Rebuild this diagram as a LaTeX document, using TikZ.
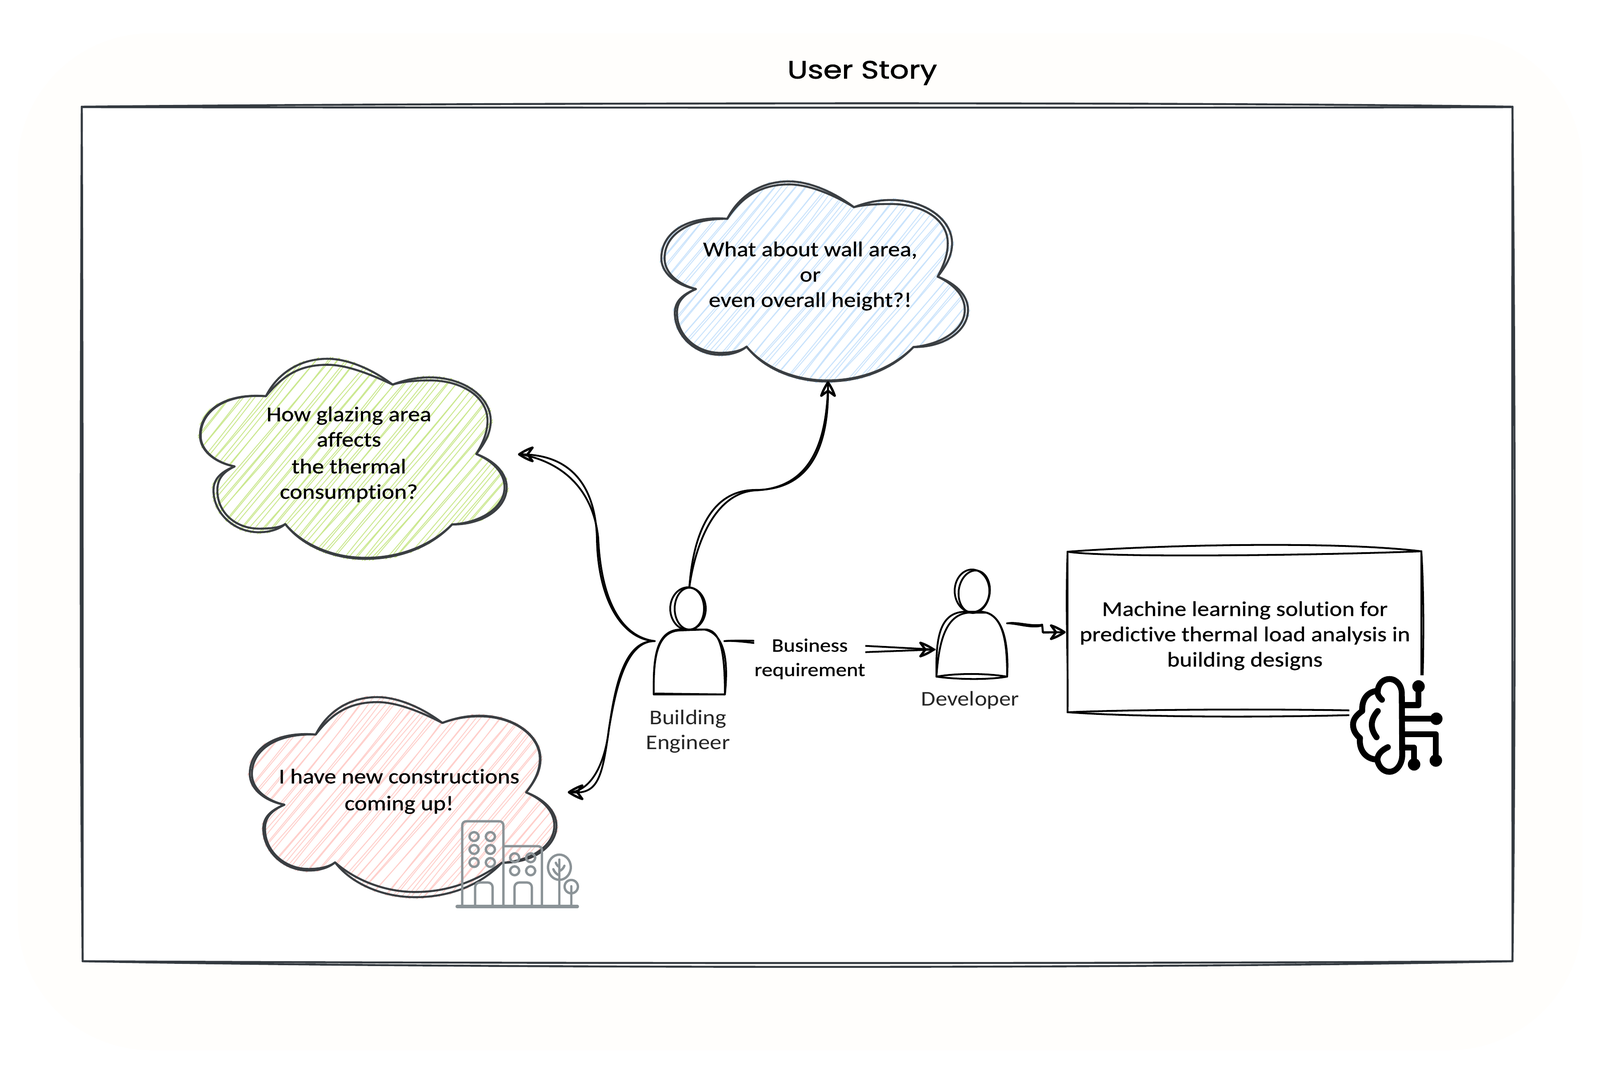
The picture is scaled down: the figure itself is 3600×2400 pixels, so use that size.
\documentclass[tikz,border=0pt]{standalone}
\usepackage{fontspec}
\setmainfont{Carlito}
\newfontfamily\titlefont[FakeStretch=1.2,FakeBold=1.6]{Poppins}
\newfontfamily\bodyfont[FakeStretch=1.14,FakeBold=0.7,Ligatures=NoCommon]{Carlito}
\newfontfamily\thinfont[FakeStretch=1.12,Ligatures=NoCommon]{Carlito}
\definecolor{ink}{HTML}{3A3E42}
\definecolor{framecol}{HTML}{343A40}
\definecolor{cream}{HTML}{FFFEFC}
\definecolor{hgreen}{HTML}{CBE88F}
\definecolor{hblue}{HTML}{C9E3FC}
\definecolor{hpink}{HTML}{FFCFCB}
\definecolor{icongray}{HTML}{8B9397}
\tikzset{
  framestroke/.style={draw=framecol,line width=1.25pt,line cap=round,line join=round},
  cloudstroke/.style={draw=ink,line width=1.3pt,line cap=round,line join=round},
  sketch/.style={draw=black,line width=1.15pt,line cap=round,line join=round},
  tipstroke/.style={draw=black,line width=1.5pt,line cap=round,line join=round},
  bodytext/.style={align=center,inner sep=0pt,text=black,font=\bodyfont\fontsize{13.4}{16.2}\selectfont},
  labeltext/.style={align=center,inner sep=0pt,text=black,font=\bodyfont\fontsize{12.2}{15.6}\selectfont},
  thintext/.style={align=center,inner sep=0pt,text=black!85,font=\thinfont\fontsize{13.4}{15.8}\selectfont},
  hatchline/.style={line width=0.55pt,line cap=round},
  bldg/.style={draw=icongray,line width=1.5pt,line cap=round,line join=round,rounded corners=1.2pt},
  brainstroke/.style={draw=black,line width=3.8pt,line cap=round,line join=round},
}
% cloud outline in a 0..100 box; the six arguments push each lobe out or in
\newcommand{\cloudpath}[6]{
 (62.8,12.9) .. controls (56,{5-#1}) and (48,{0-#1}) .. (41.6,{0-#1}) .. controls (32,{0-#1}) and ({25-.6*#1},{8-.3*#1}) .. (21.5,18.7)
 .. controls ({8-.5*#2},{17-#2}) and ({0-.7*#2},{26-.5*#2}) .. ({0-.7*#2},38.4) .. controls ({0-.7*#2},46) and ({5-.5*#2},{52+.2*#2}) .. (11.3,53.8)
 .. controls ({6-.5*#3},57) and ({4.4-.7*#3},61) .. ({4.4-.7*#3},65.8) .. controls ({4.4-.7*#3},77) and ({11-.4*#3},{86.7+#3}) .. (19.2,{86.7+#3}) .. controls (23,{86.7+#3}) and (26,{85+.3*#3}) .. (27.8,82.6)
 .. controls ({33-.2*#4},{93+#4}) and (43,{100+#4}) .. (54,{100+#4}) .. controls (66,{100+#4}) and ({76+.2*#4},{93+#4}) .. (82.2,82.8)
 .. controls ({92+.5*#5},{83+#5}) and ({100+.7*#5},{75+.5*#5}) .. ({100+.7*#5},64.2) .. controls ({100+.7*#5},57) and ({96+.5*#5},{51-.2*#5}) .. (90.1,47.6)
 .. controls ({93+.5*#6},42) and ({94.8+.7*#6},37) .. ({94.8+.7*#6},30.9) .. controls ({94.8+.7*#6},19) and ({86+.4*#6},{9.3-#6}) .. (74.9,{9.3-#6}) .. controls (70,{9.3-#6}) and (66,{11-.3*#6}) .. (62.8,12.9) -- cycle
}
% #1 x, #2 y, #3 hachure colour, #4 six lobe offsets of the second stroke
\newcommand{\cloud}[4]{
 \begin{scope}[shift={(#1,#2)},xscale=6.9,yscale=4.5]
  \begin{scope}
   \clip \cloudpath{1}{1}{1}{1}{1}{1};
   \foreach \i in {-17,...,29}{
     \pgfmathsetmacro{\u}{\i*3.5}
     \draw[#3,hatchline] ({\u+1.6*rand},102) .. controls ({\u+19+1.6*rand},68) and ({\u+38+1.6*rand},34) .. ({\u+56.5+1.6*rand},-2);
     \draw[#3,hatchline] ({\u+1.6*rand},102) .. controls ({\u+19+1.6*rand},68) and ({\u+38+1.6*rand},34) .. ({\u+56.5+1.6*rand},-2);
   }
  \end{scope}
  \draw[cloudstroke] \cloudpath{0}{0}{0}{0}{0}{0};
  \draw[cloudstroke] \cloudpath#4;
 \end{scope}
}
% open sketched arrow head: tip at #1,#2, pointing along the angle #3
\newcommand{\ahead}[3]{
 \begin{scope}[shift={(#1,#2)},rotate=#3]
  \draw[tipstroke] (-30,-15) .. controls (-20,-12) and (-9,-6) .. (0,0) .. controls (-9,6) and (-20,12) .. (-30,15);
  \draw[tipstroke] (-30,-15) -- (-19,0) -- (-30,15);
 \end{scope}
}
\begin{document}
\begin{tikzpicture}[x=0.01cm,y=-0.01cm]
\useasboundingbox (0,0) rectangle (3600,2400);
\fill[white] (0,0) rectangle (3600,2400);
\fill[cream,rounded corners=30mm] (40,75) rectangle (3560,2362);

% main frame
\fill[white] (184,240) rectangle (3403,2162);
\draw[framestroke] (184,240) .. controls (1000,232) and (2600,228) .. (3403,240);
\draw[framestroke] (184,241) .. controls (1000,242) and (2600,243) .. (3403,241);
\draw[framestroke] (3403,240) .. controls (3410,1000) and (3409,1700) .. (3403,2162);
\draw[framestroke] (3403,240) .. controls (3402,1000) and (3403,1700) .. (3403,2162);
\draw[framestroke] (3403,2162) .. controls (2600,2180) and (1000,2178) .. (186,2162);
\draw[framestroke] (3403,2162) .. controls (2600,2168) and (1000,2167) .. (186,2162);
\draw[framestroke] (186,2162) .. controls (179,1500) and (182,800) .. (184,240);
\draw[framestroke] (186,2162) .. controls (186,1500) and (186,800) .. (184,240);

\node[font=\titlefont\fontsize{16}{18}\selectfont,text=black,inner sep=0pt] (title) at (1940,164) {User Story};

% clouds
\cloud{1488}{408}{hblue}{{-1.5}{-1.5}{-1}{-.5}{-1.5}{-2}}
\cloud{450}{807}{hgreen}{{-3}{-.3}{-1.8}{-.5}{-1}{-1.5}}
\cloud{562}{1568}{hpink}{{-2.5}{-1}{-.8}{-2.6}{-1}{-.3}}

\node[bodytext] (blueText) at (1823,621) {What about wall area,\\or\\even overall height?!};
\node[bodytext] (greenText) at (785,1022) {How glazing area\\affects\\[1pt]the thermal\\consumption?};
\node[bodytext] (pinkText) at (898,1780) {I have new constructions\\[1pt]coming up!};

% building icon
\begin{scope}[shift={(1000,1820)},scale=0.3333]
 \draw[draw=icongray,line width=2pt,line cap=round] (85,657) -- (898,657);
 \draw[bldg,rounded corners=2.5pt] (120,650) -- (120,82) -- (398,82) -- (398,650);
 \draw[bldg,rounded corners=2.5pt] (398,250) -- (658,250) -- (658,650);
 \foreach \cx/\cy in {200/185,310/185,200/272,310/272,200/360,310/360,474/328,582/328,474/416,582/416}{
   \draw[bldg,rounded corners=3pt] ({\cx-31},{\cy-30}) rectangle ({\cx+31},{\cy+30});
 }
 \draw[bldg,rounded corners=3pt] (207,650) -- (207,495) -- (325,495) -- (325,650);
 \draw[bldg,rounded corners=3pt] (473,650) -- (473,495) -- (590,495) -- (590,650);
 \draw[bldg] (776,392) ellipse [x radius=77,y radius=85];
 \draw[bldg] (776,650) -- (776,340);
 \draw[bldg] (752,362) .. controls (758,378) and (766,385) .. (776,392);
 \draw[bldg] (810,382) .. controls (803,400) and (792,410) .. (776,418);
 \draw[bldg] (735,405) .. controls (742,425) and (758,440) .. (776,448);
 \draw[bldg] (856,523) circle [radius=45];
 \draw[bldg] (856,650) -- (856,520);
\end{scope}

% building engineer
\coordinate (engHead) at (1551,1321);
\coordinate (engL) at (1473,1442);
\coordinate (engR) at (1630,1442);
\draw[sketch] (1548,1369) ellipse [x radius=40,y radius=48];
\draw[sketch] (1551,1369) ellipse [x radius=33,y radius=47];
\draw[sketch] (1471,1562) .. controls (1470,1490) and (1472,1418) .. (1530,1416) -- (1590,1416) .. controls (1622,1420) and (1631,1470) .. (1631,1562) -- cycle;
\draw[sketch] (1471,1562) .. controls (1470,1490) and (1474,1420) .. (1530,1418) -- (1585,1416) .. controls (1628,1425) and (1640,1480) .. (1631,1562) -- (1475,1560);
\node[thintext] (engLabel) at (1548,1645) {Building\\Engineer};

% developer
\coordinate (devL) at (2103,1461);
\coordinate (devR) at (2266,1402);
\draw[sketch] (2187,1329) ellipse [x radius=39,y radius=48];
\draw[sketch] (2192,1331) [rotate around={-8:(2192,1331)}] ellipse [x radius=35,y radius=48];
\draw[sketch] (2107,1522) .. controls (2106,1450) and (2108,1378) .. (2170,1376) -- (2210,1376) .. controls (2260,1382) and (2266,1450) .. (2266,1522) .. controls (2220,1514) and (2150,1514) .. (2107,1522);
\draw[sketch] (2107,1522) .. controls (2112,1450) and (2125,1382) .. (2180,1378) -- (2220,1378) .. controls (2258,1390) and (2270,1450) .. (2266,1522) .. controls (2220,1530) and (2150,1528) .. (2107,1522);
\node[thintext] (devLabel) at (2183,1575) {Developer};

% machine learning box
\draw[sketch] (2402,1241) .. controls (2600,1226) and (3000,1216) .. (3198,1240);
\draw[sketch] (2402,1241) .. controls (2500,1256) and (3000,1248) .. (3198,1240);
\draw[sketch] (2402,1241) -- (2402,1602);
\draw[sketch] (2402,1241) .. controls (2397,1380) and (2404,1500) .. (2402,1602);
\draw[sketch] (3198,1240) .. controls (3205,1350) and (3203,1500) .. (3198,1602);
\draw[sketch] (3198,1240) -- (3198,1602);
\draw[sketch] (2402,1602) .. controls (2600,1594) and (3000,1594) .. (3198,1602);
\draw[sketch] (2402,1602) .. controls (2600,1616) and (3000,1614) .. (3198,1602);
\node[bodytext] (mlText) at (2801,1430) {Machine learning solution for\\predictive thermal load analysis in\\building designs};

% brain icon with its white ground
\fill[white] (3036,1519) rectangle (3262,1750);
\begin{scope}[shift={(2950,1480)},scale=0.3333]
 \draw[brainstroke] (478,282) .. controls (455,262) and (445,240) .. (450,220) .. controls (455,170) and (490,142) .. (528,142) .. controls (580,142) and (612,190) .. (612,240) -- (615,660) .. controls (612,720) and (575,768) .. (528,768) .. controls (490,768) and (455,735) .. (448,690) .. controls (445,650) and (480,620) .. (518,602);
 \draw[brainstroke] (445,222) .. controls (385,228) and (340,275) .. (345,358) .. controls (305,385) and (283,415) .. (283,450) .. controls (283,490) and (305,520) .. (330,540) .. controls (320,620) and (370,685) .. (445,685);
 \draw[brainstroke] (450,358) .. controls (395,420) and (400,480) .. (442,535);
 \draw[brainstroke] (620,318) -- (725,318) -- (725,192);
 \fill (725,192) circle [radius=42];
 \draw[brainstroke] (620,410) -- (845,410);
 \fill (845,410) circle [radius=42];
 \draw[brainstroke] (620,515) -- (842,515) -- (842,692);
 \fill (842,692) circle [radius=42];
 \draw[brainstroke] (620,605) -- (695,605) -- (695,718);
 \fill (695,718) circle [radius=42];
\end{scope}

% connectors
\coordinate (blueEnd) at (1863,865);
\coordinate (greenEnd) at (1172,1022);
\coordinate (pinkEnd) at (1285,1782);
\coordinate (mlEnd) at (2395,1422);

\draw[sketch] (engHead) .. controls (1560,1200) and (1600,1102) .. (1700,1102) .. controls (1820,1102) and (1866,1010) .. (blueEnd);
\draw[sketch] (engHead) .. controls (1566,1215) and (1612,1108) .. (1700,1103) .. controls (1815,1098) and (1860,1010) .. (blueEnd);
\ahead{1863}{860}{90}

\draw[sketch] (engL) .. controls (1400,1438) and (1345,1350) .. (1343,1210) .. controls (1340,1100) and (1290,1022) .. (greenEnd);
\draw[sketch] (engL) .. controls (1395,1432) and (1352,1345) .. (1346,1210) .. controls (1335,1105) and (1270,1040) .. (greenEnd);
\ahead{1168}{1022}{180}

\draw[sketch] (engL) .. controls (1400,1440) and (1382,1560) .. (1370,1640) .. controls (1355,1750) and (1345,1788) .. (pinkEnd);
\draw[sketch] (engL) .. controls (1405,1442) and (1384,1560) .. (1370,1640) .. controls (1362,1710) and (1335,1775) .. (pinkEnd);
\ahead{1280}{1782}{180}

\draw[sketch] (engR) .. controls (1680,1438) and (1800,1445) .. (devL);
\draw[sketch] (engR) .. controls (1680,1438) and (1800,1468) .. (1943,1467) -- (devL);
\ahead{2101}{1461}{0}
\node[labeltext,fill=white,minimum width=243*0.01cm,minimum height=60*0.01cm] (bizText) at (1822,1482) {Business\\requirement};

\draw[sketch] (devR) .. controls (2290,1398) and (2320,1410) .. (2345,1405) -- (2346,1422) -- (mlEnd);
\draw[sketch] (devR) .. controls (2290,1402) and (2320,1414) .. (2345,1407) -- (2347,1423) -- (mlEnd);
\ahead{2395}{1422}{0}
\end{tikzpicture}
\end{document}
